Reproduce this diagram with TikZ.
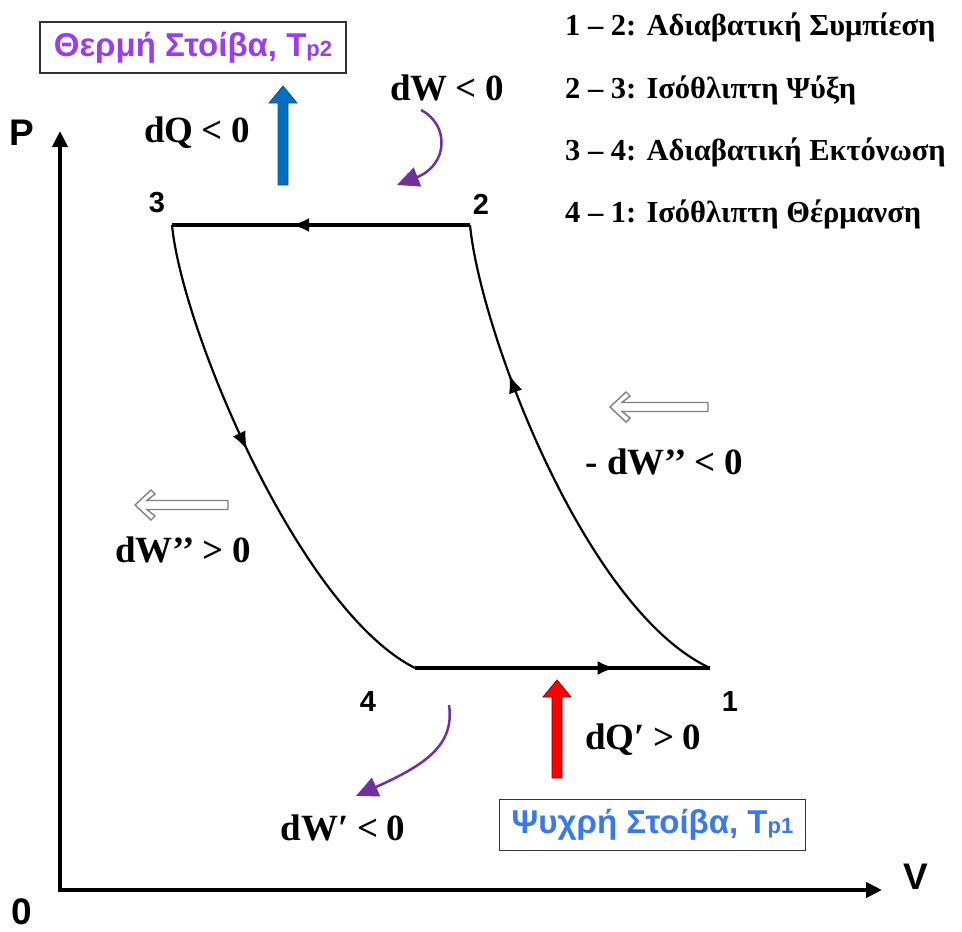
\documentclass[tikz,border=0pt]{standalone}
\usepackage{fontspec}
\setmainfont{Liberation Serif}
\newfontfamily\arialf{Liberation Sans}
\usetikzlibrary{arrows.meta,decorations.markings}
\definecolor{qblue}{HTML}{0070C0}
\definecolor{qblueedge}{HTML}{1F4E79}
\definecolor{qred}{HTML}{FF0000}
\definecolor{qrededge}{HTML}{7F0000}
\definecolor{wpurple}{HTML}{7030A0}
\definecolor{hottext}{HTML}{9A3CF0}
\definecolor{coldtext}{HTML}{3878F0}
\definecolor{boxedge}{HTML}{333333}
\tikzset{
  axisline/.style={line width=4pt,-{Triangle[length=16pt,width=15pt]}},
  isoline/.style={line width=4pt},
  adiline/.style={line width=2.2pt},
  midarrow/.style={postaction={decorate},decoration={markings,
     mark=at position #1 with {\arrow{Latex[length=18pt,width=14pt]}}}},
  warc/.style={draw=wpurple,line width=2.5pt,-{Triangle[length=22pt,width=20pt]},wpurple},
  serlbl/.style={font=\fontsize{37}{37}\selectfont\bfseries,inner sep=0pt},
  numlbl/.style={font=\arialf\fontsize{29}{29}\selectfont\bfseries,inner sep=0pt},
  axlbl/.style={font=\arialf\fontsize{37}{37}\selectfont\bfseries,inner sep=0pt},
  legend/.style={font=\fontsize{30.5}{30.5}\selectfont\bfseries,anchor=west,inner sep=0pt},
  stackbox/.style={draw=boxedge,line width=1.5pt,fill=white,minimum width=306pt,minimum height=51pt,
     font=\arialf\fontsize{33}{33}\selectfont\bfseries,inner sep=0pt},
  hollow/.style={draw=gray,line width=1.4pt,fill=white}
}
\newcommand{\lt}{\kern-1pt<\kern-1pt}
\newcommand{\gt}{\kern-1pt>\kern-1pt}
\begin{document}
\begin{tikzpicture}[x=1pt,y=-1pt]
\useasboundingbox (0,0) rectangle (962,932);
% axes
\coordinate (O) at (60,890);
\coordinate (Ptop) at (60,131);
\coordinate (Vend) at (882,890);
\draw[axisline] (O) -- (Ptop);
\draw[axisline] ([xshift=-2pt]O) -- (Vend);
\node[axlbl] (Plbl) at (22,133) {P};
\node[axlbl] (Vlbl) at (916,877) {V};
\node[axlbl] (Olbl) at (22,912) {0};
% cycle points
\coordinate (p1) at (710,668);
\coordinate (p2) at (470,225);
\coordinate (p3) at (172,225);
\coordinate (p4) at (415,668);
\draw[isoline,midarrow=0.6] (p2) -- (p3);
\draw[isoline,midarrow=0.68] (p4) -- (p1);
\draw[adiline,midarrow=0.46] (p3) .. controls (182,330) and (300,610) .. (p4);
\draw[adiline,midarrow=0.7] (p1) .. controls (585,610) and (480,330) .. (p2);
\node[numlbl] (n3) at (157,203) {3};
\node[numlbl] (n2) at (481,204) {2};
\node[numlbl] (n4) at (368,702) {4};
\node[numlbl] (n1) at (730,702) {1};
% heat reservoirs
\node[stackbox,text=hottext] (hot) at (193,47.5) {Θερμή Στοίβα, Τ{\fontsize{22}{22}\selectfont p2}};
\node[stackbox,text=coldtext] (cold) at (652.5,825) {Ψυχρή Στοίβα, Τ{\fontsize{22}{22}\selectfont p1}};
% heat arrows
\draw[fill=qblue,draw=qblueedge,line width=0.8pt]
  (278,185) -- (278,103) -- (269,103) -- (283,86) -- (297,103) -- (288,103) -- (288,185) -- cycle;
\draw[fill=qred,draw=qrededge,line width=0.8pt]
  (552,778) -- (552,697) -- (543,697) -- (557,680) -- (571,697) -- (562,697) -- (562,778) -- cycle;
\node[serlbl] (dQ) at (197,133) {dQ \lt{} 0};
\node[serlbl] (dQp) at (643,740) {dQ′ \gt{} 0};
% work arrows
\coordinate (wa) at (421,110);
\coordinate (wb) at (397,185);
\draw[warc] (wa) .. controls (450,125) and (448,165) .. (wb);
\node[serlbl] (dW) at (447,88) {dW \lt{} 0};
\coordinate (wc) at (449,705);
\coordinate (wd) at (356,796);
\draw[warc] (wc) .. controls (455,745) and (425,765) .. (wd);
\node[serlbl] (dWp) at (343,828) {dW′ \lt{} 0};
% hollow arrows
\draw[hollow] (135,505) -- (151,490) -- (155,494) -- (147,500.5) -- (228,500.5) -- (228,509.5)
  -- (147,509.5) -- (155,516) -- (151,520) -- cycle;
\node[serlbl] (dWpp) at (183,550) {dW’’ \gt{} 0};
\draw[hollow] (610,407) -- (626,392) -- (630,396) -- (622,402.5) -- (708,402.5) -- (708,411.5)
  -- (622,411.5) -- (630,418) -- (626,422) -- cycle;
\node[serlbl] (mdWpp) at (664,462) {- dW’’ \lt{} 0};
% legend
\node[legend] (l1) at (565,27) {1 – 2: Αδιαβατική Συμπίεση};
\node[legend] (l2) at (565,90) {2 – 3: Ισόθλιπτη Ψύξη};
\node[legend] (l3) at (565,152) {3 – 4: Αδιαβατική Εκτόνωση};
\node[legend] (l4) at (565,214) {4 – 1: Ισόθλιπτη Θέρμανση};
\end{tikzpicture}
\end{document}
